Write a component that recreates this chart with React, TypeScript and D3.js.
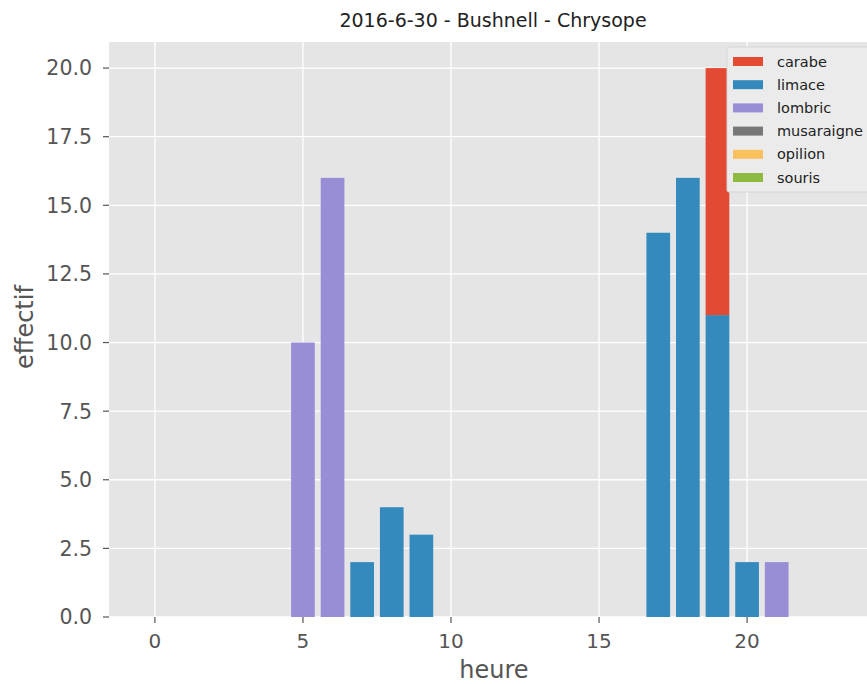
import React from "react";
import * as d3 from "d3";

const hours = [5, 6, 7, 8, 9, 17, 18, 19, 20, 21];
const carabe = [0, 0, 0, 0, 0, 0, 0, 9, 0, 0];
const limace = [0, 0, 2, 4, 3, 14, 16, 11, 2, 0];
const lombric = [10, 16, 0, 0, 0, 0, 0, 0, 0, 2];
const species = ["carabe", "limace", "lombric", "musaraigne", "opilion", "souris"];
const colors = ["#E24A33", "#348ABD", "#988ED5", "#777777", "#FBC15E", "#8EBA42"];
const xTicks = [0, 5, 10, 15, 20];
const yTicks = [0, 2.5, 5, 7.5, 10, 12.5, 15, 17.5, 20];

const W = 867, H = 684;
const L = 109, R = 867, T = 42, B = 617;

export default function App() {
  const x = d3.scaleLinear().domain([-1.55, 24.05]).range([L, R]);
  const y = d3.scaleLinear().domain([0, 20.95]).range([B, T]);
  const bw = x(0.8) - x(0);
  const series = [
    { vals: limace, base: hours.map(() => 0), color: colors[1] },
    { vals: carabe, base: limace, color: colors[0] },
    { vals: lombric, base: hours.map(() => 0), color: colors[2] },
  ];
  const font = "DejaVu Sans, sans-serif";
  return (
    <svg width={W} height={H} style={{ position: "absolute", left: 0, top: 0, background: "#fff" }}>
      <rect x={L} y={T} width={R - L} height={B - T} fill="#E5E5E5" />
      {xTicks.map((t) => (
        <line key={"gx" + t} x1={x(t)} x2={x(t)} y1={T} y2={B} stroke="#fff" strokeWidth={1.3} />
      ))}
      {yTicks.map((t) => (
        <line key={"gy" + t} x1={L} x2={R} y1={y(t)} y2={y(t)} stroke="#fff" strokeWidth={1.3} />
      ))}
      {series.map((s, si) =>
        hours.map((h, i) =>
          s.vals[i] > 0 ? (
            <rect
              key={si + "-" + i}
              x={x(h - 0.4)}
              width={bw}
              y={y(s.base[i] + s.vals[i])}
              height={y(s.base[i]) - y(s.base[i] + s.vals[i])}
              fill={s.color}
            />
          ) : null
        )
      )}
      {xTicks.map((t) => (
        <g key={"tx" + t}>
          <line x1={x(t)} x2={x(t)} y1={B} y2={B + 6} stroke="#555" strokeWidth={1.2} />
          <text x={x(t)} y={B + 31} textAnchor="middle" fontFamily={font} fontSize={20} fill="#555">
            {t}
          </text>
        </g>
      ))}
      {yTicks.map((t) => (
        <g key={"ty" + t}>
          <line x1={L - 6} x2={L} y1={y(t)} y2={y(t)} stroke="#555" strokeWidth={1.2} />
          <text x={L - 17} y={y(t)} dy="0.36em" textAnchor="end" fontFamily={font} fontSize={20.5} fill="#555">
            {t.toFixed(1)}
          </text>
        </g>
      ))}
      <text x={494} y={678} textAnchor="middle" fontFamily={font} fontSize={24} fill="#555">
        heure
      </text>
      <text
        transform={`translate(33,327) rotate(-90)`}
        textAnchor="middle"
        fontFamily={font}
        fontSize={24}
        fill="#555"
      >
        effectif
      </text>
      <text x={493} y={27} textAnchor="middle" fontFamily={font} fontSize={19} fill="#222">
        2016-6-30 - Bushnell - Chrysope
      </text>
      <g>
        <rect x={727} y={47} width={150} height={145} fill="#EBEBEB" stroke="#D5D5D5" strokeWidth={1} rx={2} />
        {species.map((s, i) => (
          <g key={s}>
            <rect x={733} y={57 + i * 23.2} width={30} height={9} fill={colors[i]} />
            <text x={777} y={61.5 + i * 23.2} dy="0.35em" fontFamily={font} fontSize={14.5} fill="#222">
              {s}
            </text>
          </g>
        ))}
      </g>
    </svg>
  );
}
